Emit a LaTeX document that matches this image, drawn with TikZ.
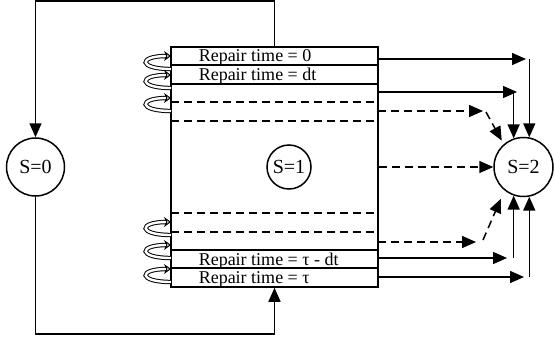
\documentclass[tikz,border=0pt]{standalone}
\usepackage{fontspec}
\setmainfont{Liberation Serif}
\usetikzlibrary{arrows.meta}
\begin{document}
\begin{tikzpicture}[x=1pt,y=-1pt,line width=1.5pt,
  tip/.style={-{Triangle[length=14pt,width=12pt]}},
  state/.style={circle,draw,minimum size=58pt,inner sep=0pt,font=\fontsize{20}{22}\selectfont},
  dsh/.style={dash pattern=on 8pt off 5pt},
  rowtext/.style={anchor=base west,inner sep=0pt,font=\fontsize{18}{20}\selectfont},
  selfloop/.style={double=white,double distance=2.4pt,line width=1pt,-{Stealth[open,length=7pt,width=10pt]}}]
\useasboundingbox (0,0) rectangle (554,343);
% states
\node[state] (s0) at (35.5,167) {S=0};
\node[state,minimum size=44pt] (s1) at (289,167) {S=1};
\node[state,minimum size=59pt] (s2) at (523.5,167) {S=2};
% main box
\node[draw,minimum width=207pt,minimum height=240pt,inner sep=0pt] (box) at (274.5,167) {};
\draw (171,65) -- (378,65);
\draw (171,84) -- (378,84);
\draw[dsh] (171,102) -- (378,102);
\draw[dsh] (171,121) -- (378,121);
\draw[dsh] (171,213) -- (378,213);
\draw[dsh] (171,232) -- (378,232);
\draw (171,250) -- (378,250);
\draw (171,268) -- (378,268);
% row texts
\node[rowtext] (t1) at (198,61) {Repair time = 0};
\node[rowtext] (t2) at (198,80) {Repair time = dt};
\node[rowtext] (t3) at (198,265) {Repair time = τ - dt};
\node[rowtext] (t4) at (198,283) {Repair time = τ};
% self loops
\foreach \t in {56,75,98,222,245,269}{
  \draw[selfloop] (171,\t+13) .. controls (138,\t+13) and (138,\t) .. (171,\t);
}
% outer loop S=0 -> box -> S=0
\coordinate (topc) at (274.5,1);
\coordinate (botc) at (274.5,334);
\draw[tip] (box.north) -- (topc) -| (s0.north);
\draw[tip] (s0.south) |- (botc) -- (box.south);
% right side arrows
\coordinate (h1s) at (378,59);   \coordinate (h1e) at (526,59);
\coordinate (h2s) at (378,92);   \coordinate (h2e) at (517,92);
\coordinate (d1s) at (378,111);  \coordinate (d1e) at (483,111);
\coordinate (d2s) at (378,242);  \coordinate (d2e) at (476,242);
\coordinate (h3s) at (378,258);  \coordinate (h3e) at (507,258);
\coordinate (h4s) at (378,277);  \coordinate (h4e) at (524,277);
\draw[tip] (h1s) -- (h1e);
\draw[tip] (h2s) -- (h2e);
\draw[tip,dsh] (d1s) -- (d1e);
\draw[tip,dsh] (box.east |- s2.west) -- (s2.west);
\draw[tip,dsh] (d2s) -- (d2e);
\draw[tip] (h3s) -- (h3e);
\draw[tip] (h4s) -- (h4e);
\draw[tip] (s2.79 |- h1s) -- (s2.79);
\draw[tip] (s2.109 |- h2s) -- (s2.109);
\draw[tip] (s2.251 |- h3s) -- (s2.251);
\draw[tip] (s2.281 |- h4s) -- (s2.281);
\coordinate (d1b) at (486,112);
\coordinate (d2b) at (483,240);
\draw[tip,dsh,shorten >=4pt] (d1b) -- (s2.131);
\draw[tip,dsh,shorten >=9pt] (d2b) -- (s2.231);
\end{tikzpicture}
\end{document}
